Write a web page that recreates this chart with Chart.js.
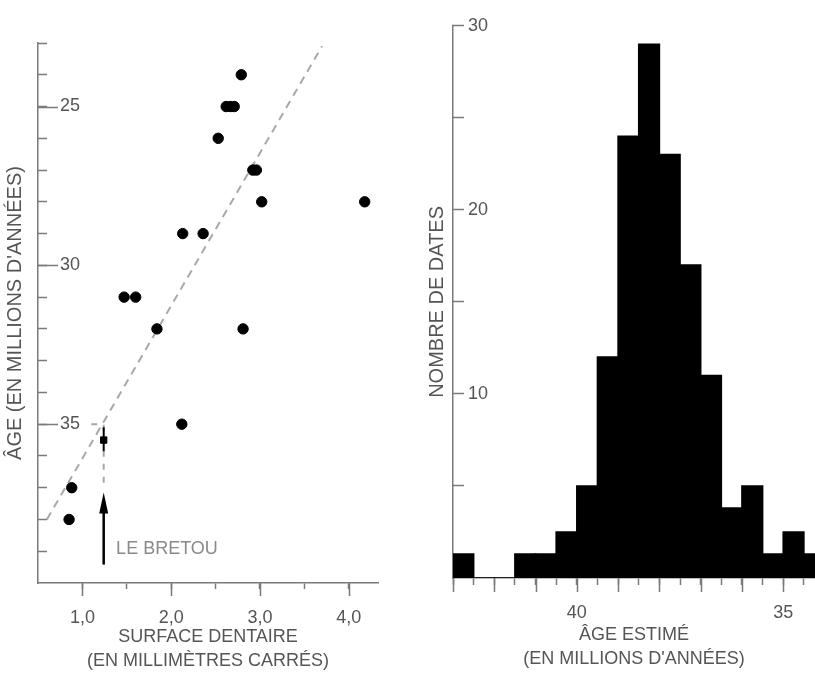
<!DOCTYPE html>
<html lang="fr">
<head>
<meta charset="utf-8">
<title>Surface dentaire et âge estimé</title>
<script src="https://cdn.jsdelivr.net/npm/chart.js@4.4.0/dist/chart.umd.min.js"></script>
<style>
  html, body { margin: 0; padding: 0; background: #fff; width: 815px; height: 673px; overflow: hidden; }
  .panel { position: absolute; top: 0; height: 673px; }
  #leftPanel  { left: 0;     width: 400px; }
  #rightPanel { left: 420px; width: 395px; }
</style>
</head>
<body>
<div class="panel" id="leftPanel"><canvas id="scatterChart"></canvas></div>
<div class="panel" id="rightPanel"><canvas id="histChart"></canvas></div>

<script>
// ─── Data : surface dentaire / âge ────────────────────────────────────────────
const toothArea = [2.79, 2.62, 2.67, 2.71, 2.53, 2.92, 2.96, 3.02, 4.18, 2.13, 2.36, 1.47, 1.60, 1.84, 2.81, 2.12, 0.88, 0.85];
const toothAge  = [24,   25,   25,   25,   26,   27,   27,   28,   28,   29,   29,   31,   31,   32,   32,   35,   37,   38];

const bretouArea     = 1.24;
const bretouAge      = 35.5;
const bretouAgeRange = [35.1, 35.85];
const guideArea      = [1.10, 1.24, 1.24];
const guideAge       = [35, 35, 36.9];
const arrowAge       = [39.42, 37.7];
const arrowTipAge    = 37.15;
const bretouLabelAt  = { x: 1.38, y: 38.94 };

const trendArea = [0.6, 3.7];
const trendAge  = [38.0, 23.1];

const areaTicks  = [1.0, 1.5, 2.0, 2.5, 3.0, 3.5, 4.0];
const areaMajor  = [1, 2, 3, 4];
const ageTicks   = [23, 24, 25, 26, 27, 28, 29, 30, 31, 32, 33, 34, 35, 36, 37, 38, 39];
const ageLabels  = [25, 30, 35];

// ─── Data : histogramme des dates ─────────────────────────────────────────────
const binAges    = [42.75, 42.25, 41.75, 41.25, 40.75, 40.25, 39.75, 39.25, 38.75, 38.25, 37.75, 37.25, 36.75, 36.25, 35.75, 35.25, 34.75, 34.25];
const dateCounts = [1.3,   0,     0,     1.3,   1.3,   2.5,   5,     12,    24,    29,    23,    17,    11,    3.8,   5,     1.3,   2.5,   1.3];

const estTicks   = [43, 42.5, 42, 41.5, 41, 40.5, 40, 39.5, 39, 38.5, 38, 37.5, 37, 36.5, 36, 35.5, 35, 34.5];
const estMajor   = [43, 42, 41, 40, 39, 38, 37, 36, 35];
const estLabels  = [40, 35];
const countTicks = [5, 10, 15, 20, 25, 30];
const countLabels = [10, 20, 30];

// ─── Style ────────────────────────────────────────────────────────────────────
const AXIS_GREY = '#7a7a7a';
const TEXT_GREY = '#555555';
const DASH_GREY = '#a8a8a8';

Chart.defaults.font.family = "'Liberation Sans', Arial, Helvetica, sans-serif";
Chart.defaults.color = TEXT_GREY;
Chart.defaults.animation = false;

// longer tick marks for the major values (built-in ticks give the short ones)
const majorTicks = {
  id: 'majorTicks',
  afterDraw(chart, args, opts) {
    const { ctx, chartArea, scales } = chart;
    ctx.save();
    ctx.strokeStyle = AXIS_GREY;
    ctx.lineWidth = 1.5;
    ctx.beginPath();
    (opts.xValues || []).forEach(v => {
      const px = Math.round(scales.x.getPixelForValue(v)) + 0.5;
      ctx.moveTo(px, chartArea.bottom);
      ctx.lineTo(px, chartArea.bottom + opts.xLen);
    });
    (opts.yValues || []).forEach(v => {
      const py = Math.round(scales.y.getPixelForValue(v)) + 0.5;
      ctx.moveTo(chartArea.left, py);
      ctx.lineTo(chartArea.left + opts.yLen, py);
    });
    ctx.stroke();
    ctx.restore();
  }
};

// arrow head + "LE BRETOU" label
const bretouNote = {
  id: 'bretouNote',
  afterDatasetsDraw(chart) {
    const { ctx, scales: { x, y } } = chart;
    const tx = x.getPixelForValue(bretouArea);
    const ty = y.getPixelForValue(arrowTipAge);
    ctx.save();
    ctx.fillStyle = '#000';
    ctx.beginPath();
    ctx.moveTo(tx, ty);
    ctx.lineTo(tx - 4.5, ty + 21);
    ctx.lineTo(tx + 4.5, ty + 21);
    ctx.closePath();
    ctx.fill();
    ctx.font = "18px 'Liberation Sans', Arial, sans-serif";
    ctx.fillStyle = '#8a8a8a';
    ctx.textBaseline = 'middle';
    ctx.textAlign = 'left';
    ctx.fillText('LE BRETOU', x.getPixelForValue(bretouLabelAt.x), y.getPixelForValue(bretouLabelAt.y));
    ctx.restore();
  }
};

function pairs(xs, ys) { return xs.map((v, i) => ({ x: v, y: ys[i] })); }

// the tick label padding must not eat into the chart area
function fixHeight(h) {
  return s => { s.height = h; s.paddingLeft = 0; s.paddingRight = 0; };
}

// ─── Left : scatter ───────────────────────────────────────────────────────────
new Chart(document.getElementById('scatterChart'), {
  type: 'scatter',
  data: {
    datasets: [
      { label: 'dents', data: pairs(toothArea, toothAge), backgroundColor: '#000', borderColor: '#000',
        pointRadius: 5.2, pointBorderWidth: 1, pointHoverRadius: 5.2 },
      { label: 'Le Bretou', data: [{ x: bretouArea, y: bretouAge }], pointStyle: 'rect',
        backgroundColor: '#000', borderColor: '#000', pointRadius: 4.5 },
      { label: 'intervalle', data: bretouAgeRange.map(a => ({ x: bretouArea, y: a })), showLine: true,
        borderColor: '#000', borderWidth: 2, pointRadius: 0 },
      { label: 'tendance', data: pairs(trendArea, trendAge), showLine: true,
        borderColor: DASH_GREY, borderWidth: 2, borderDash: [8, 6], pointRadius: 0 },
      { label: 'projection', data: pairs(guideArea, guideAge), showLine: true,
        borderColor: DASH_GREY, borderWidth: 2, borderDash: [6, 7], pointRadius: 0 },
      { label: 'flèche', data: arrowAge.map(a => ({ x: bretouArea, y: a })), showLine: true,
        borderColor: '#000', borderWidth: 2.5, pointRadius: 0 },
    ],
  },
  options: {
    responsive: true,
    maintainAspectRatio: false,
    events: [],
    layout: { padding: { top: 43, right: 22, bottom: 0, left: 0 } },
    plugins: {
      legend: { display: false },
      tooltip: { enabled: false },
      majorTicks: { xValues: areaMajor, xLen: 13, yValues: ageLabels, yLen: 20 },
    },
    scales: {
      x: {
        type: 'linear', min: 0.5, max: 4.33, bounds: 'data',
        grid: { drawOnChartArea: false, color: AXIS_GREY, tickLength: 6, tickWidth: 1.5 },
        border: { color: AXIS_GREY, width: 1.5 },
        ticks: {
          autoSkip: false, maxRotation: 0, padding: 18, color: TEXT_GREY, font: { size: 18 },
          callback: v => areaMajor.includes(v) ? v.toFixed(1).replace('.', ',') : '',
        },
        afterBuildTicks: s => { s.ticks = areaTicks.map(v => ({ value: v })); },
        afterFit: fixHeight(90),
        title: {
          display: true, color: TEXT_GREY,
          text: ['SURFACE DENTAIRE', '(EN MILLIMÈTRES CARRÉS)'],
          font: { size: 18, lineHeight: 24 / 18 },
          padding: { top: 0, bottom: 0 },
        },
      },
      y: {
        type: 'linear', reverse: true, min: 23, max: 40, bounds: 'data',
        grid: { drawOnChartArea: false, color: AXIS_GREY, tickLength: -9, tickWidth: 1.5 },
        border: { color: AXIS_GREY, width: 1.5 },
        ticks: {
          mirror: true, padding: 22, color: TEXT_GREY, font: { size: 18 },
          callback: v => ageLabels.includes(v) ? String(v) : '',
        },
        afterBuildTicks: s => { s.ticks = ageTicks.map(v => ({ value: v })); },
        afterFit: s => { s.width = 38; },
        title: {
          display: true, color: TEXT_GREY,
          text: "ÂGE (EN MILLIONS D'ANNÉES)",
          font: { size: 20 },
          padding: { top: 3, bottom: 0 },
        },
      },
    },
  },
  plugins: [majorTicks, bretouNote],
});

// ─── Right : histogram ────────────────────────────────────────────────────────
new Chart(document.getElementById('histChart'), {
  type: 'bar',
  data: {
    datasets: [{
      label: 'dates',
      data: pairs(binAges, dateCounts),
      backgroundColor: '#000',
      borderWidth: 0,
      inflateAmount: 0.8,
      barPercentage: 1,
      categoryPercentage: 1,
    }],
  },
  options: {
    responsive: true,
    maintainAspectRatio: false,
    events: [],
    layout: { padding: { top: 23, right: 0, bottom: 0, left: 0 } },
    plugins: {
      legend: { display: false },
      tooltip: { enabled: false },
      majorTicks: { xValues: estMajor, xLen: 14 },
    },
    scales: {
      x: {
        type: 'linear', reverse: true, min: 34.23, max: 43, bounds: 'data', offset: false,
        grid: { offset: false, drawOnChartArea: false, color: AXIS_GREY, tickLength: 7, tickWidth: 1.5 },
        border: { color: AXIS_GREY, width: 1.5 },
        ticks: {
          autoSkip: false, maxRotation: 0, padding: 17, color: TEXT_GREY, font: { size: 18 },
          callback: v => estLabels.includes(v) ? String(v) : '',
        },
        afterBuildTicks: s => { s.ticks = estTicks.map(v => ({ value: v })); },
        afterFit: fixHeight(95),
        title: {
          display: true, color: TEXT_GREY,
          text: ['ÂGE ESTIMÉ', "(EN MILLIONS D'ANNÉES)"],
          font: { size: 18, lineHeight: 24 / 18 },
          padding: { top: 0, bottom: 2 },
        },
      },
      y: {
        type: 'linear', min: 0, max: 30, bounds: 'data',
        grid: { drawOnChartArea: false, color: AXIS_GREY, tickLength: -11, tickWidth: 1.5 },
        border: { color: AXIS_GREY, width: 1.5 },
        ticks: {
          mirror: true, padding: 15, color: TEXT_GREY, font: { size: 18 },
          callback: v => countLabels.includes(v) ? String(v) : '',
        },
        afterBuildTicks: s => { s.ticks = countTicks.map(v => ({ value: v })); },
        afterFit: s => { s.width = 33; },
        title: {
          display: true, color: TEXT_GREY,
          text: 'NOMBRE DE DATES',
          font: { size: 20 },
          padding: { top: 5, bottom: 0 },
        },
      },
    },
  },
  plugins: [majorTicks],
});
</script>
</body>
</html>
